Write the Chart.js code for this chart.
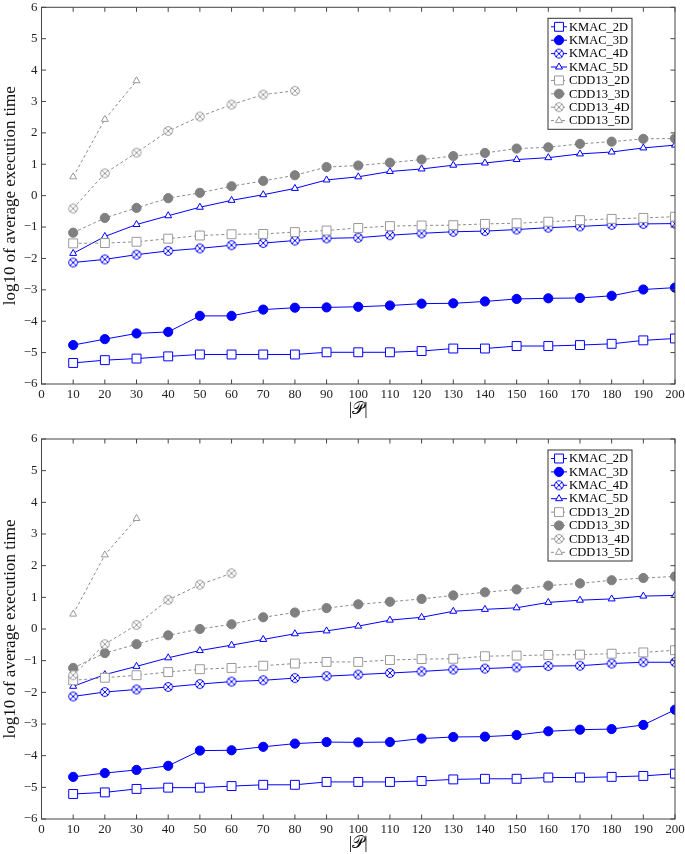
<!DOCTYPE html>
<html>
<head>
<meta charset="utf-8">
<script src="https://cdn.jsdelivr.net/npm/chart.js@4.4.1/dist/chart.umd.min.js"></script>
<style>
  body { margin: 0; background: #fff; }
  .panel { position: absolute; left: 0; }
</style>
</head>
<body>
<canvas id="chartTop" class="panel" style="top:0px" width="685" height="420"></canvas>
<canvas id="chartBottom" class="panel" style="top:420px" width="685" height="434"></canvas>
<script>
// |P| values on the x axis
const pSizes = [10, 20, 30, 40, 50, 60, 70, 80, 90, 100, 110, 120, 130, 140, 150, 160, 170, 180, 190, 200];
const seriesNames = ['KMAC_2D', 'KMAC_3D', 'KMAC_4D', 'KMAC_5D', 'CDD13_2D', 'CDD13_3D', 'CDD13_4D', 'CDD13_5D'];
const yTicks = [-6, -5, -4, -3, -2, -1, 0, 1, 2, 3, 4, 5, 6];

// upper panel
const kmac2dA = [-5.33, -5.24, -5.19, -5.12, -5.06, -5.06, -5.06, -5.06, -4.99, -4.99, -4.99, -4.95, -4.87, -4.87, -4.79, -4.79, -4.76, -4.72, -4.61, -4.55];
const kmac3dA = [-4.76, -4.57, -4.39, -4.34, -3.83, -3.83, -3.63, -3.57, -3.56, -3.54, -3.50, -3.44, -3.43, -3.37, -3.29, -3.27, -3.26, -3.19, -2.99, -2.93];
const kmac4dA = [-2.13, -2.03, -1.88, -1.76, -1.68, -1.58, -1.51, -1.43, -1.36, -1.34, -1.26, -1.20, -1.15, -1.13, -1.08, -1.02, -0.98, -0.93, -0.90, -0.89];
const kmac5dA = [-1.84, -1.30, -0.92, -0.64, -0.37, -0.15, 0.03, 0.23, 0.50, 0.60, 0.77, 0.85, 0.97, 1.04, 1.15, 1.21, 1.33, 1.39, 1.52, 1.61];
const cdd2dA = [-1.52, -1.51, -1.47, -1.37, -1.27, -1.23, -1.22, -1.16, -1.11, -1.03, -0.97, -0.95, -0.94, -0.90, -0.88, -0.83, -0.78, -0.74, -0.71, -0.67];
const cdd3dA = [-1.18, -0.71, -0.39, -0.08, 0.09, 0.30, 0.47, 0.65, 0.91, 0.96, 1.05, 1.15, 1.26, 1.36, 1.50, 1.54, 1.65, 1.72, 1.81, 1.82];
const cdd4dA = [-0.41, 0.71, 1.37, 2.06, 2.52, 2.90, 3.22, 3.34];
const cdd5dA = [0.60, 2.43, 3.66];

// lower panel
const kmac2dB = [-5.21, -5.16, -5.05, -5.01, -5.01, -4.96, -4.92, -4.92, -4.83, -4.83, -4.83, -4.80, -4.75, -4.73, -4.73, -4.69, -4.69, -4.67, -4.64, -4.57];
const kmac3dB = [-4.67, -4.55, -4.45, -4.32, -3.84, -3.83, -3.72, -3.62, -3.57, -3.58, -3.57, -3.46, -3.41, -3.40, -3.35, -3.23, -3.18, -3.16, -3.03, -2.55];
const kmac4dB = [-2.13, -1.99, -1.91, -1.83, -1.74, -1.66, -1.62, -1.55, -1.49, -1.44, -1.39, -1.34, -1.28, -1.25, -1.21, -1.17, -1.16, -1.09, -1.05, -1.05];
const kmac5dB = [-1.81, -1.44, -1.18, -0.91, -0.68, -0.51, -0.33, -0.15, -0.06, 0.09, 0.28, 0.37, 0.56, 0.62, 0.67, 0.84, 0.91, 0.95, 1.04, 1.06];
const cdd2dB = [-1.62, -1.54, -1.46, -1.36, -1.27, -1.23, -1.16, -1.09, -1.04, -1.04, -0.98, -0.95, -0.94, -0.86, -0.84, -0.82, -0.81, -0.78, -0.74, -0.67];
const cdd3dB = [-1.23, -0.76, -0.48, -0.20, 0.00, 0.15, 0.37, 0.52, 0.66, 0.78, 0.86, 0.95, 1.06, 1.16, 1.25, 1.37, 1.44, 1.54, 1.61, 1.66];
const cdd4dB = [-1.46, -0.48, 0.13, 0.92, 1.40, 1.76];
const cdd5dB = [0.47, 2.34, 3.49];

const SERIF = "'Liberation Serif', 'DejaVu Serif', serif";
const BLUE = '#0000ff';
const GREY = '#999999';
const GREY_DARK = '#808080';

// circle with an x inside, pgfplots "otimes" marker
function otimes(color) {
  const c = document.createElement('canvas');
  c.width = 12; c.height = 12;
  const g = c.getContext('2d');
  g.strokeStyle = color;
  g.fillStyle = '#fff';
  g.lineWidth = 1;
  g.beginPath();
  g.arc(6, 6, 4.4, 0, Math.PI * 2);
  g.fill();
  g.stroke();
  const d = 4.4 * Math.SQRT1_2;
  g.beginPath();
  g.moveTo(6 - d, 6 - d); g.lineTo(6 + d, 6 + d);
  g.moveTo(6 + d, 6 - d); g.lineTo(6 - d, 6 + d);
  g.stroke();
  return c;
}
const otimesBlue = otimes(BLUE);
const otimesGrey = otimes(GREY);

function series(i, values) {
  const kmac = i < 4;
  const color = kmac ? BLUE : GREY;
  const styles = [
    { pointStyle: 'rect', pointRadius: 6.3, pointBackgroundColor: '#fff' },
    { pointStyle: 'circle', pointRadius: 4.6, pointBackgroundColor: kmac ? BLUE : GREY_DARK, pointBorderColor: kmac ? BLUE : GREY_DARK },
    { pointStyle: kmac ? otimesBlue : otimesGrey, pointRadius: 4.4 },
    { pointStyle: 'triangle', pointRadius: 4, pointBackgroundColor: '#fff' }
  ][i % 4];
  return Object.assign({
    label: seriesNames[i],
    data: values.map((v, k) => ({ x: pSizes[k], y: v })),
    borderColor: kmac ? BLUE : '#8c8c8c',
    borderWidth: 1,
    borderDash: kmac ? [] : [3, 2.5],
    pointBorderColor: color,
    pointBorderWidth: 1,
    pointBackgroundColor: color,
    tension: 0,
    order: 8 - i
  }, styles);
}

// frame, inward ticks and the boxed legend
const framePlugin = {
  id: 'frame',
  afterDatasetsDraw(chart) {
    const { ctx, chartArea: a, scales } = chart;
    ctx.save();
    ctx.strokeStyle = '#444';
    ctx.lineWidth = 1;
    ctx.strokeRect(a.left, a.top, a.right - a.left, a.bottom - a.top);
    ctx.beginPath();
    scales.x.ticks.forEach(t => {
      const px = scales.x.getPixelForValue(t.value);
      ctx.moveTo(px, a.top); ctx.lineTo(px, a.top + 4.5);
      ctx.moveTo(px, a.bottom); ctx.lineTo(px, a.bottom - 4.5);
    });
    scales.y.ticks.forEach(t => {
      const py = scales.y.getPixelForValue(t.value);
      ctx.moveTo(a.left, py); ctx.lineTo(a.left + 4.5, py);
      ctx.moveTo(a.right, py); ctx.lineTo(a.right - 4.5, py);
    });
    ctx.stroke();

    // legend
    const bw = 84, bh = 111;
    const bx = a.right - 43 - bw, by = a.top + 11;
    ctx.fillStyle = '#fff';
    ctx.fillRect(bx, by, bw, bh);
    ctx.strokeStyle = '#333';
    ctx.strokeRect(bx, by, bw, bh);
    ctx.font = '12.5px ' + SERIF;
    ctx.textBaseline = 'middle';
    chart.data.datasets.forEach((ds, i) => {
      const ry = by + 8.5 + i * 13.4;
      const mx = bx + 11;
      ctx.strokeStyle = ds.borderColor;
      ctx.setLineDash(ds.borderDash);
      ctx.beginPath();
      ctx.moveTo(bx + 3, ry); ctx.lineTo(bx + 19, ry);
      ctx.stroke();
      ctx.setLineDash([]);
      ctx.strokeStyle = ds.pointBorderColor;
      ctx.fillStyle = ds.pointBackgroundColor;
      ctx.lineWidth = 1;
      Chart.helpers.drawPoint(ctx, { pointStyle: ds.pointStyle, radius: ds.pointRadius, rotation: 0, borderWidth: 1 }, mx, ry);
      ctx.fillStyle = '#000';
      ctx.fillText(ds.label, bx + 21, ry + 0.5);
    });
    ctx.restore();
  }
};

function makeChart(id, values, padTop, axisH) {
  new Chart(document.getElementById(id), {
    type: 'line',
    data: { datasets: values.map((v, i) => series(i, v)) },
    options: {
      responsive: false,
      animation: false,
      layout: { padding: { top: padTop, right: 10, left: 0, bottom: 0 } },
      plugins: { legend: { display: false }, tooltip: { enabled: false } },
      scales: {
        x: {
          type: 'linear', min: 0, max: 200,
          grid: { display: false, drawTicks: false }, border: { display: false },
          ticks: { stepSize: 10, autoSkip: false, maxRotation: 0, padding: 3, color: '#222', font: { family: SERIF, size: 13 } },
          title: { display: true, text: '|\u{1D4AB}|', color: '#111', padding: { top: 0, bottom: 0 }, font: { family: SERIF, size: 17 } },
          afterFit(s) { s.height = axisH; s.paddingLeft = 0; s.paddingRight = 0; }
        },
        y: {
          min: -6, max: 6,
          grid: { display: false, drawTicks: false }, border: { display: false },
          afterBuildTicks(s) { s.ticks = yTicks.map(v => ({ value: v })); },
          ticks: {
            padding: 4, color: '#222', font: { family: SERIF, size: 13 },
            callback: v => String(v).replace('-', '\u2212')
          },
          title: { display: true, text: 'log10 of average execution time', color: '#111', padding: { top: 0, bottom: 0 }, font: { family: SERIF, size: 17 } },
          afterFit(s) { s.width = 41.5; s.paddingTop = 0; s.paddingBottom = 0; }
        }
      }
    },
    plugins: [framePlugin]
  });
}

makeChart('chartTop', [kmac2dA, kmac3dA, kmac4dA, kmac5dA, cdd2dA, cdd3dA, cdd4dA, cdd5dA], 5, 36);
makeChart('chartBottom', [kmac2dB, kmac3dB, kmac4dB, kmac5dB, cdd2dB, cdd3dB, cdd4dB, cdd5dB], 19, 35);
</script>
</body>
</html>
